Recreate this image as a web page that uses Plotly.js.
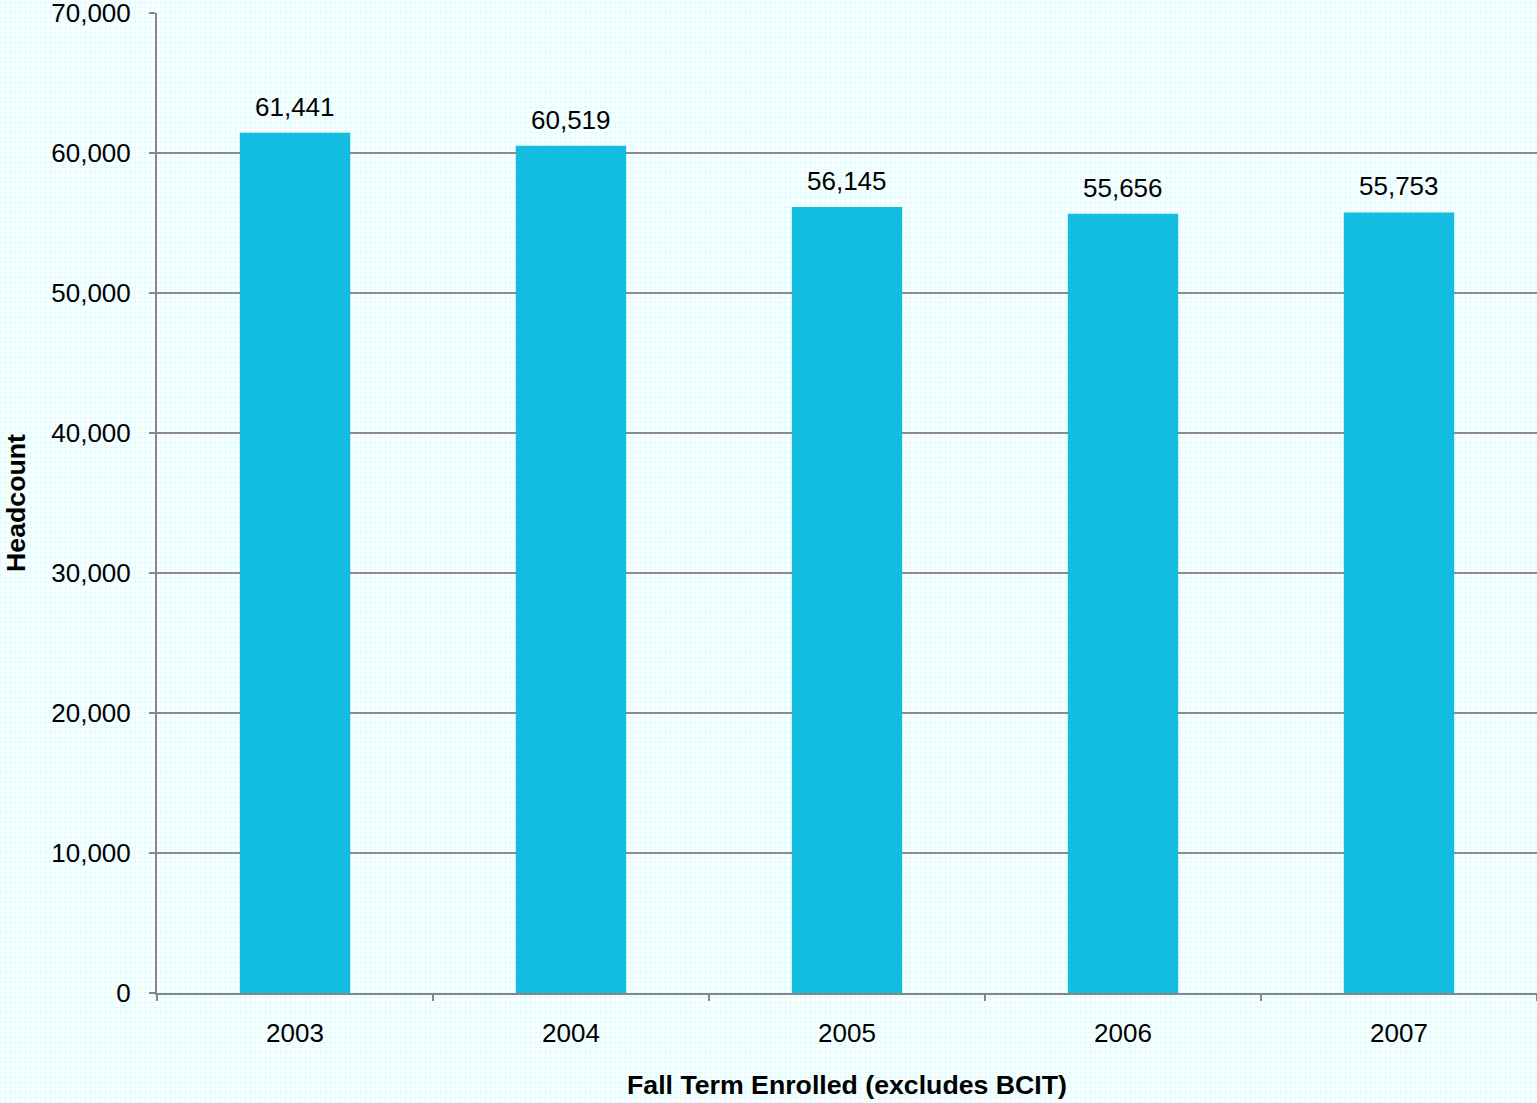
<!DOCTYPE html>
<html>
<head>
<meta charset="utf-8">
<script src="https://cdn.plot.ly/plotly-3.0.1.min.js"></script>
<style>
html,body{margin:0;padding:0;}
body{
  width:1537px;height:1103px;overflow:hidden;
  background-color:#f8ffff;
  background-image:
    repeating-linear-gradient(0deg, rgba(210,248,252,0.5) 0px, rgba(210,248,252,0.5) 1px, transparent 1px, transparent 5px),
    repeating-linear-gradient(90deg, rgba(210,248,252,0.5) 0px, rgba(210,248,252,0.5) 1px, transparent 1px, transparent 5px);
}
#chart{width:1537px;height:1103px;}
</style>
</head>
<body>
<div id="chart"></div>
<script>
const years = ["2003", "2004", "2005", "2006", "2007"];
const headcount = [61441, 60519, 56145, 55656, 55753];
const yTickVals = [0, 10000, 20000, 30000, 40000, 50000, 60000, 70000];
const yTickText = ["0", "10,000", "20,000", "30,000", "40,000", "50,000", "60,000", "70,000"];

const fmt = v => v.toLocaleString("en-US");

const trace = {
  type: "bar",
  x: years,
  y: headcount,
  text: headcount.map(fmt),
  textposition: "none",
  marker: {color: "#12bde0", line: {width: 0}},
  hoverinfo: "x+y"
};

const annotations = years.map((yr, i) => ({
  x: i,
  y: headcount[i],
  xref: "x",
  yref: "y",
  text: fmt(headcount[i]),
  showarrow: false,
  yanchor: "bottom",
  yshift: 9,
  font: {family: "Liberation Sans, Arial, sans-serif", size: 26, color: "#000"}
}));

const layout = {
  width: 1537,
  height: 1103,
  margin: {l: 157, r: 0, t: 13, b: 110, pad: 0},
  paper_bgcolor: "rgba(0,0,0,0)",
  plot_bgcolor: "rgba(0,0,0,0)",
  showlegend: false,
  bargap: 0.6,
  font: {family: "Liberation Sans, Arial, sans-serif", size: 26, color: "#000"},
  xaxis: {
    type: "category",
    range: [-0.5, 4.5],
    autorange: false,
    showline: true,
    linecolor: "#868686",
    linewidth: 2,
    ticks: "outside",
    tickson: "boundaries",
    ticklen: 6,
    tickwidth: 2,
    tickcolor: "#868686",
    showgrid: false,
    tickangle: 0,
    ticklabelstandoff: 16,
    tickfont: {size: 26},
    title: {text: "<b>Fall Term Enrolled (excludes BCIT)</b>", font: {size: 26.7}, standoff: 28}
  },
  yaxis: {
    range: [0, 70000],
    autorange: false,
    tickmode: "array",
    tickvals: yTickVals,
    ticktext: yTickText,
    ticklabeloverflow: "allow",
    showline: true,
    linecolor: "#868686",
    linewidth: 2,
    ticks: "outside",
    ticklen: 6,
    tickwidth: 2,
    tickcolor: "#868686",
    showgrid: true,
    gridcolor: "#8c8c8c",
    gridwidth: 2,
    zeroline: false,
    ticklabelstandoff: 13,
    tickfont: {size: 26},
    title: {text: "<b>Headcount</b>", font: {size: 26.7}, standoff: 18}
  },
  annotations: annotations
};

Plotly.newPlot("chart", [trace], layout, {displayModeBar: false, staticPlot: true});
</script>
</body>
</html>
